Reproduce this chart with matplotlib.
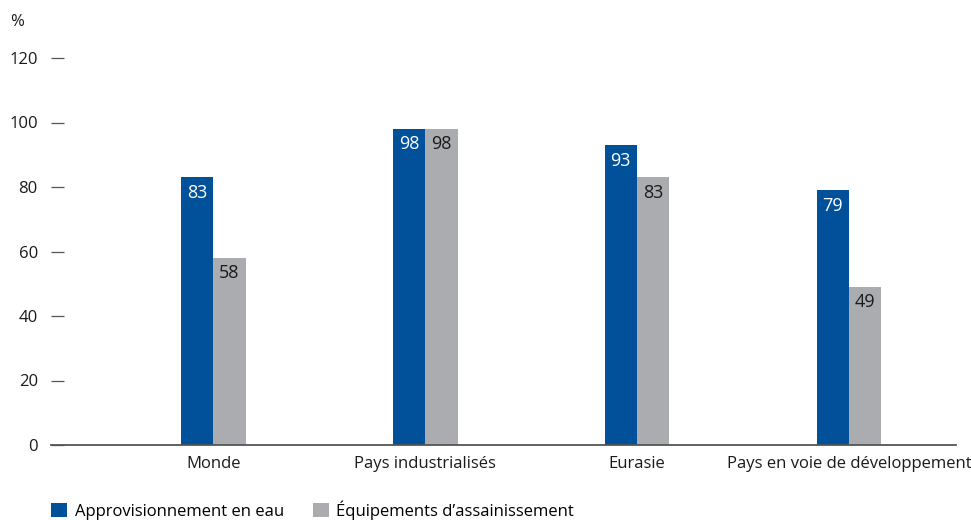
import matplotlib
matplotlib.use('Agg')
import matplotlib.pyplot as plt
import numpy as np

plt.rcParams['font.family'] = ['Open Sans', 'DejaVu Sans']

categories = ['Monde', 'Pays industrialisés', 'Eurasie', 'Pays en voie de développement']
eau = [83, 98, 93, 79]
assainissement = [58, 98, 83, 49]
series_names = ['Approvisionnement en eau', 'Équipements d\u2019assainissement']
yticks = [0, 20, 40, 60, 80, 100, 120]

blue = '#00509a'
gray = '#abacb0'

fig = plt.figure(figsize=(9.71, 5.2), dpi=100)
ax = fig.add_axes([51/971, 75/520, 905/971, 387/520])

x = np.arange(len(categories))
w = 0.153
b1 = ax.bar(x - w/2, eau, w, color=blue, label=series_names[0])
b2 = ax.bar(x + w/2, assainissement, w, color=gray, label=series_names[1])

for rect, v in zip(b1, eau):
    ax.text(rect.get_x() + rect.get_width()/2, v - 2.0, str(v), ha='center', va='top',
            color='white', fontsize=13)
for rect, v in zip(b2, assainissement):
    ax.text(rect.get_x() + rect.get_width()/2, v - 2.0, str(v), ha='center', va='top',
            color='#1a1a1a', fontsize=13)

ax.set_xlim(-0.765, 3.505)
ax.set_ylim(0, 120)
ax.set_yticks(yticks)
ax.set_xticks(x)
ax.set_xticklabels(categories)
for s in ['top', 'right', 'left']:
    ax.spines[s].set_visible(False)
ax.spines['bottom'].set_color('#555555')
ax.spines['bottom'].set_linewidth(1.3)
ax.tick_params(axis='y', direction='in', length=9.5, width=0.9, color='#555555',
               pad=9.5, labelsize=12, labelcolor='#1a1a1a')
ax.tick_params(axis='x', length=0, pad=8, labelsize=12, labelcolor='#1a1a1a')

fig.text(10/971, 1 - 22/520, '%', fontsize=12, va='center', ha='left', color='#1a1a1a')

leg = fig.legend(handles=[b1, b2], loc='lower left', bbox_to_anchor=(48/971, -3/520),
                 ncol=2, frameon=False, fontsize=12, handlelength=0.95, handleheight=0.95,
                 handletextpad=0.45, columnspacing=1.75, borderaxespad=0.0, borderpad=0.2)

fig.savefig('out.png', dpi=100)
